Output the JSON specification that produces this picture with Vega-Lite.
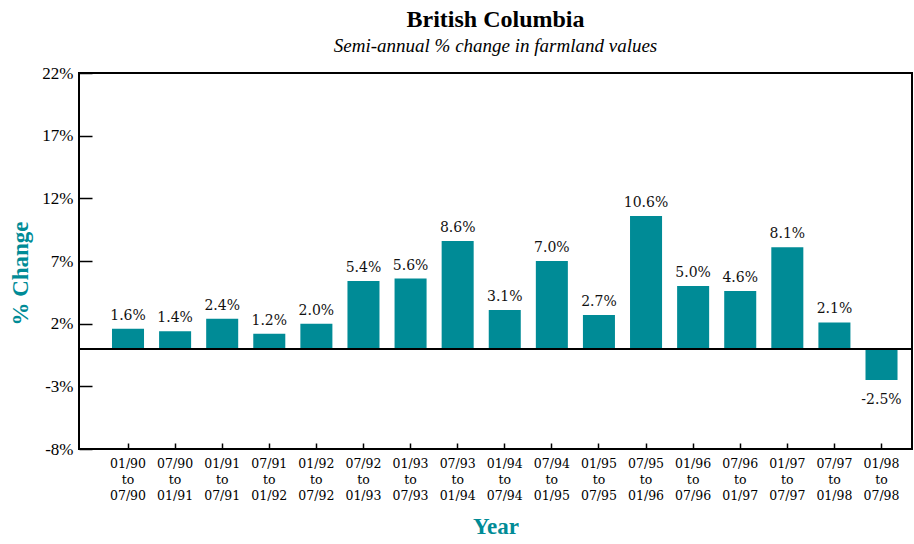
{
  "$schema": "https://vega.github.io/schema/vega-lite/v6.json",
  "autosize": "none",
  "width": 833,
  "height": 376,
  "padding": {"left": 79, "top": 73, "right": 2, "bottom": 95},
  "background": "white",
  "title": {
    "text": "British Columbia",
    "subtitle": "Semi-annual % change in farmland values",
    "anchor": "middle",
    "font": "Liberation Serif",
    "fontSize": 24,
    "fontWeight": "bold",
    "color": "black",
    "subtitleFont": "Liberation Serif",
    "subtitleFontSize": 19,
    "subtitleFontStyle": "italic",
    "subtitleColor": "black",
    "subtitlePadding": 5,
    "offset": 8
  },
  "config": {"view": {"stroke": "black", "strokeWidth": 2}},
  "data": {
    "values": [
      {"period": "01/90|to|07/90", "value": 1.6},
      {"period": "07/90|to|01/91", "value": 1.4},
      {"period": "01/91|to|07/91", "value": 2.4},
      {"period": "07/91|to|01/92", "value": 1.2},
      {"period": "01/92|to|07/92", "value": 2.0},
      {"period": "07/92|to|01/93", "value": 5.4},
      {"period": "01/93|to|07/93", "value": 5.6},
      {"period": "07/93|to|01/94", "value": 8.6},
      {"period": "01/94|to|07/94", "value": 3.1},
      {"period": "07/94|to|01/95", "value": 7.0},
      {"period": "01/95|to|07/95", "value": 2.7},
      {"period": "07/95|to|01/96", "value": 10.6},
      {"period": "01/96|to|07/96", "value": 5.0},
      {"period": "07/96|to|01/97", "value": 4.6},
      {"period": "01/97|to|07/97", "value": 8.1},
      {"period": "07/97|to|01/98", "value": 2.1},
      {"period": "01/98|to|07/98", "value": -2.5}
    ]
  },
  "transform": [{"calculate": "replace(format(datum.value, '.1f'), '\u2212', '-') + '%'", "as": "label"}],
  "encoding": {
    "x": {
      "field": "period",
      "type": "nominal",
      "sort": null,
      "scale": {"paddingInner": 0.32, "paddingOuter": 0.504, "align": 0.695},
      "axis": {
        "offset": -6,
        "title": "Year",
        "titleFont": "Liberation Serif",
        "titleFontSize": 23,
        "titleFontWeight": "bold",
        "titleColor": "#008B96",
        "titleY": 83,
        "titleBaseline": "middle",
        "labelExpr": "split(datum.label, '|')",
        "labelAngle": 0,
        "labelFont": "DejaVu Serif",
        "labelFontSize": 12.5,
        "labelColor": "black",
        "labelLineHeight": 16,
        "labelPadding": 8,
        "labelBaseline": "top",
        "tickSize": 6,
        "tickColor": "black",
        "tickWidth": 1.5,
        "domain": false
      }
    }
  },
  "layer": [
    {
      "mark": {"type": "bar", "color": "#008B96"},
      "encoding": {
        "y": {
          "field": "value",
          "type": "quantitative",
          "scale": {"domain": [-8, 22], "nice": false},
          "axis": {
            "offset": -13,
            "values": [-8, -3, 2, 7, 12, 17, 22],
            "labelExpr": "datum.value + '%'",
            "labelFont": "Liberation Serif",
            "labelFontSize": 17,
            "labelColor": "black",
            "labelPadding": 6,
            "labelBaseline": "middle",
            "tickSize": 13,
            "tickColor": "black",
            "tickWidth": 1.5,
            "domain": false,
            "grid": false,
            "title": "% Change",
            "titleFont": "Liberation Serif",
            "titleFontSize": 23,
            "titleFontWeight": "bold",
            "titleColor": "#008B96",
            "titleX": -72,
            "titleY": 200,
            "titleAngle": -90,
            "titleAlign": "center",
            "titleBaseline": "middle"
          }
        }
      }
    },
    {
      "mark": {"type": "rule", "color": "black", "strokeWidth": 1.5},
      "encoding": {"y": {"datum": 0}, "x": {"value": 0}, "x2": {"value": 833}}
    },
    {
      "transform": [{"filter": "datum.value >= 0"}],
      "mark": {"type": "text", "baseline": "alphabetic", "dy": -9, "font": "DejaVu Serif", "fontSize": 14, "color": "#111"},
      "encoding": {"y": {"field": "value", "type": "quantitative"}, "text": {"field": "label"}}
    },
    {
      "transform": [{"filter": "datum.value < 0"}],
      "mark": {"type": "text", "baseline": "top", "dy": 13, "font": "DejaVu Serif", "fontSize": 14, "color": "#111"},
      "encoding": {"y": {"field": "value", "type": "quantitative"}, "text": {"field": "label"}}
    }
  ]
}
